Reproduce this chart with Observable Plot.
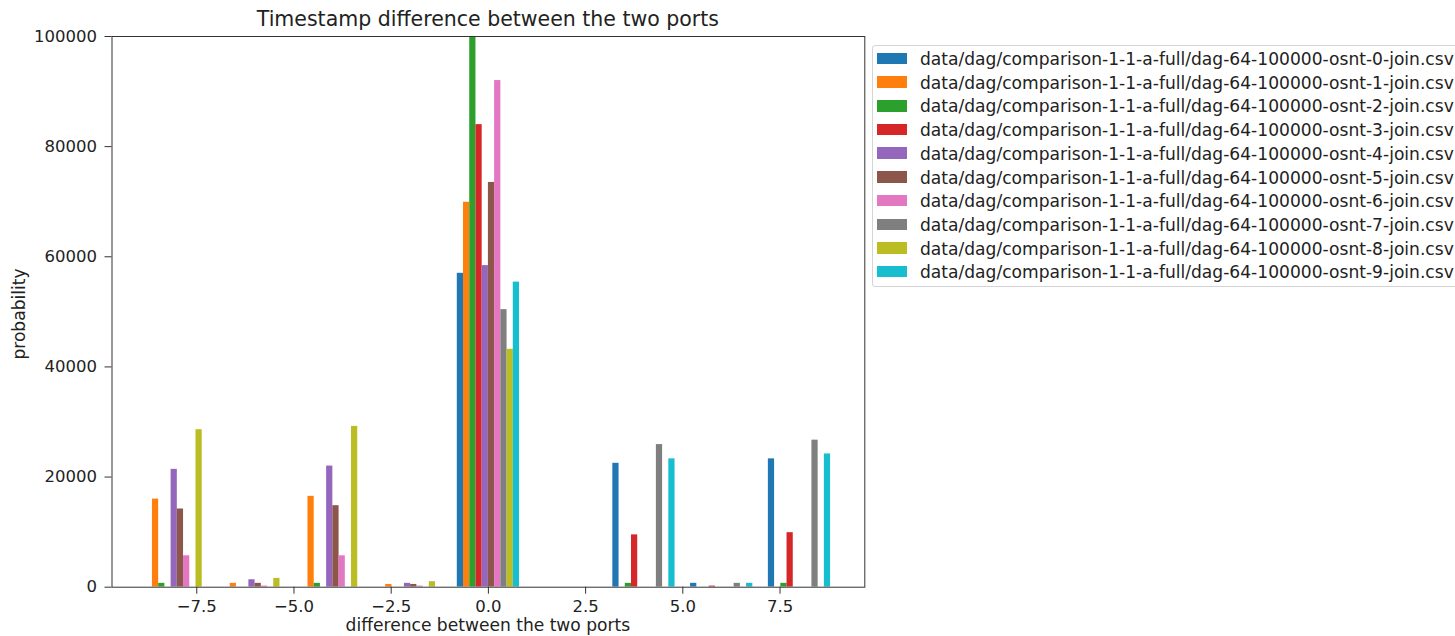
<!DOCTYPE html>
<html>
<head>
<meta charset="utf-8">
<script src="https://cdn.jsdelivr.net/npm/d3@7"></script>
<script src="https://cdn.jsdelivr.net/npm/@observablehq/plot@0.6"></script>
<style>
  html, body { margin: 0; padding: 0; background: #fff; overflow: hidden; }
  #wrap { position: relative; width: 1455px; height: 636px; overflow: hidden; font-family: "DejaVu Sans", sans-serif; color: #222; }
  #chart { position: absolute; left: 0; top: 0; }
  .title { position: absolute; font-size: 20.5px; line-height: 1; white-space: nowrap; transform: translateX(-50%); }
  .xlabel { position: absolute; font-size: 17.1px; line-height: 1; white-space: nowrap; transform: translateX(-50%); }
  .ylabel { position: absolute; font-size: 17.1px; line-height: 1; white-space: nowrap; transform: translate(-50%, -50%) rotate(-90deg); }
  #legend { position: absolute; left: 872px; top: 45px; width: 640px; height: 242px; border: 1px solid #d4d4d4; border-radius: 3px; box-sizing: border-box; background: #fff; }
  .item { position: absolute; left: 0; height: 20px; white-space: nowrap; font-size: 17.1px; line-height: 1; }
  .sw { position: absolute; left: 4px; width: 30px; height: 11.5px; }
  .lt { position: absolute; left: 47px; top: 0; }
</style>
</head>
<body>
<div id="wrap">
  <div id="chart"></div>
  <div class="title" style="left:487.9px; top:9.3px;">Timestamp difference between the two ports</div>
  <div class="xlabel" style="left:487.9px; top:617px;">difference between the two ports</div>
  <div class="ylabel" style="left:19.5px; top:314px;">probability</div>
  <div id="legend"></div>
</div>
<script>
// Bin edges of the histogram (9 bins of width 2)
const binEdges = [-9, -7, -5, -3, -1, 1, 3, 5, 7, 9];

const seriesNames = [
  "data/dag/comparison-1-1-a-full/dag-64-100000-osnt-0-join.csv",
  "data/dag/comparison-1-1-a-full/dag-64-100000-osnt-1-join.csv",
  "data/dag/comparison-1-1-a-full/dag-64-100000-osnt-2-join.csv",
  "data/dag/comparison-1-1-a-full/dag-64-100000-osnt-3-join.csv",
  "data/dag/comparison-1-1-a-full/dag-64-100000-osnt-4-join.csv",
  "data/dag/comparison-1-1-a-full/dag-64-100000-osnt-5-join.csv",
  "data/dag/comparison-1-1-a-full/dag-64-100000-osnt-6-join.csv",
  "data/dag/comparison-1-1-a-full/dag-64-100000-osnt-7-join.csv",
  "data/dag/comparison-1-1-a-full/dag-64-100000-osnt-8-join.csv",
  "data/dag/comparison-1-1-a-full/dag-64-100000-osnt-9-join.csv"
];

const seriesColors = ["#1f77b4", "#ff7f0e", "#2ca02c", "#d62728", "#9467bd",
                      "#8c564b", "#e377c2", "#7f7f7f", "#bcbd22", "#17becf"];

// counts per bin for each series
const osnt0 = [0, 0, 0, 0, 57000, 0, 22500, 700, 23300];
const osnt1 = [16000, 700, 16500, 500, 69900, 0, 0, 0, 0];
const osnt2 = [700, 0, 700, 0, 115000, 0, 700, 0, 700];
const osnt3 = [0, 0, 0, 0, 84000, 0, 9500, 200, 9900];
const osnt4 = [21400, 1350, 22000, 700, 58400, 0, 0, 0, 0];
const osnt5 = [14200, 700, 14800, 500, 73500, 0, 0, 0, 0];
const osnt6 = [5700, 200, 5700, 200, 92000, 0, 0, 0, 0];
const osnt7 = [0, 0, 0, 0, 50400, 0, 25900, 700, 26700];
const osnt8 = [28600, 1600, 29200, 1000, 43200, 0, 0, 0, 0];
const osnt9 = [0, 0, 0, 0, 55400, 0, 23300, 700, 24200];

const xTicks = [-7.5, -5, -2.5, 0, 2.5, 5, 7.5];
const yTicks = [0, 20000, 40000, 60000, 80000, 100000];

const seriesValues = [osnt0, osnt1, osnt2, osnt3, osnt4, osnt5, osnt6, osnt7, osnt8, osnt9];

// matplotlib-style grouped histogram: 80% of the bin is shared among the series
const n = seriesValues.length;
const rows = [];
seriesValues.forEach((vals, i) => {
  vals.forEach((v, b) => {
    if (v <= 0) return;
    const lo = binEdges[b], w = binEdges[b + 1] - lo;
    const x1 = lo + 0.1 * w + i * (0.8 * w / n);
    rows.push({series: seriesNames[i], x1, x2: x1 + 0.8 * w / n, y: v});
  });
});

const chart = Plot.plot({
  width: 1455,
  height: 636,
  marginLeft: 111.5,
  marginRight: 590.7,
  marginTop: 36,
  marginBottom: 49.3,
  style: {fontFamily: "DejaVu Sans", fontSize: "16.5px", color: "#222", background: "transparent"},
  x: {domain: [-9.68, 9.68], label: null},
  y: {domain: [0, 100000], label: null},
  color: {domain: seriesNames, range: seriesColors},
  marks: [
    Plot.rectY(rows, {x1: "x1", x2: "x2", y1: 0, y2: "y", fill: "series", clip: true, inset: 0}),
    Plot.frame({stroke: "#333", strokeWidth: 1}),
    Plot.axisX({ticks: xTicks, tickFormat: d3.format(".1f"), tickSize: 7, tickPadding: 6, stroke: "#333", fill: "#222", fontSize: 16.5, label: null}),
    Plot.axisY({ticks: yTicks, tickFormat: d => String(d), tickSize: 7, tickPadding: 8, stroke: "#333", fill: "#222", fontSize: 16.5, label: null})
  ]
});
document.getElementById("chart").appendChild(chart);

// legend
const leg = document.getElementById("legend");
seriesNames.forEach((name, i) => {
  const it = document.createElement("div");
  it.className = "item";
  it.style.top = (5 + i * 23.7) + "px";
  const sw = document.createElement("div");
  sw.className = "sw";
  sw.style.background = seriesColors[i];
  sw.style.top = "1.7px";
  const t = document.createElement("div");
  t.className = "lt";
  t.textContent = name;
  it.appendChild(sw);
  it.appendChild(t);
  leg.appendChild(it);
});
</script>
</body>
</html>
